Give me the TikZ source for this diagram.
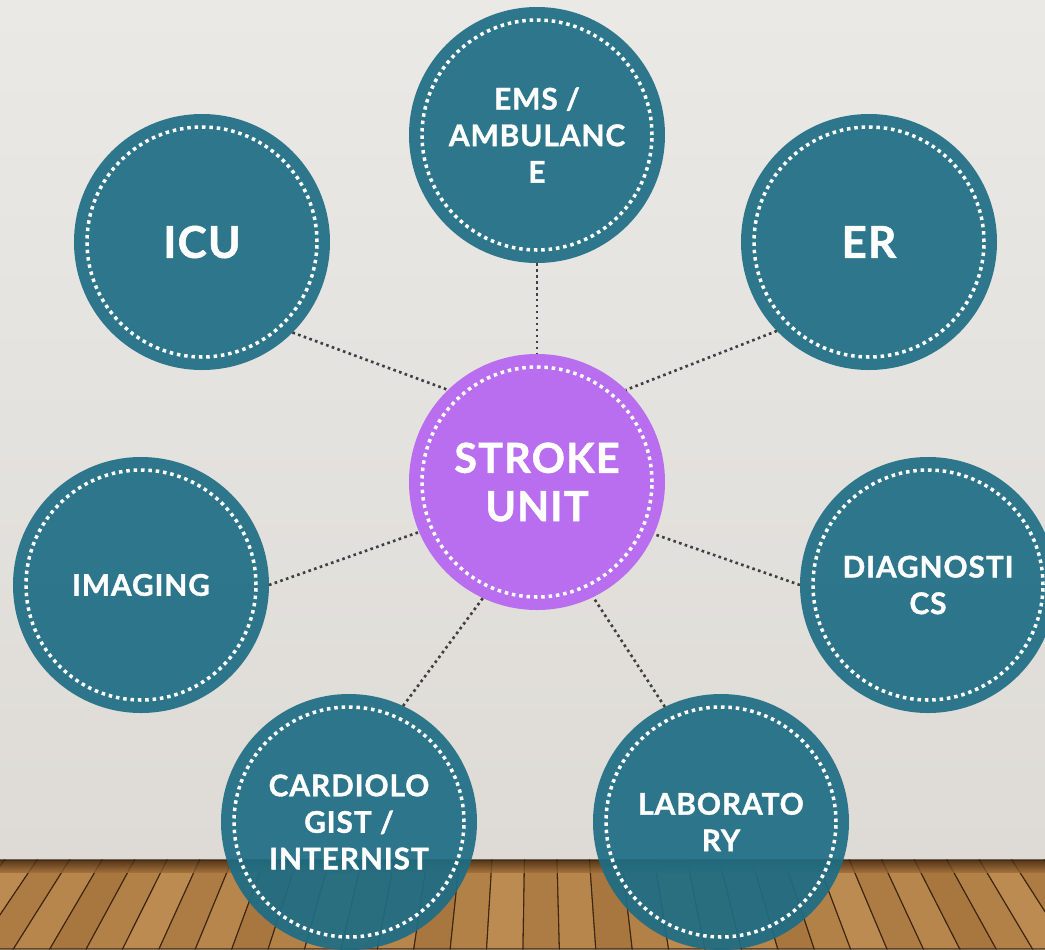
\documentclass[tikz,border=0pt]{standalone}
\usepackage{fontspec}
\setmainfont{Lato}[LetterSpace=3, BoldFeatures={FakeBold=1.2}]
\usetikzlibrary{positioning}
\definecolor{unitTeal}  {HTML}{1E6D85}
\definecolor{unitPurple}{HTML}{B86EEE}
\definecolor{wallTop}   {HTML}{EAE9E6}
\definecolor{wallLow}   {HTML}{DEDBD6}
\definecolor{floorWood} {HTML}{9C6A36}
\definecolor{floorLight}{HTML}{C49458}
\definecolor{plankDark} {HTML}{3E2510}
\definecolor{linkGray}  {HTML}{404040}
\tikzset{
  ring/.style  = {draw=white, line width=2pt, dash pattern=on 2pt off 2.2pt},
  unit/.style  = {circle, fill=unitTeal, fill opacity=0.92, text opacity=1,
                  minimum size=5.12cm, inner sep=0pt, outer sep=0pt,
                  text=white, align=center,
                  font=\bfseries\fontsize{17}{20.8}\selectfont,
                  path picture={\draw[ring] (path picture bounding box.center) circle (2.3cm);}},
  bigunit/.style = {unit, font=\bfseries\fontsize{25}{29}\selectfont},
  hubunit/.style = {unit, fill=unitPurple, fill opacity=1,
                    font=\bfseries\fontsize{23.5}{27.5}\selectfont},
  link/.style  = {draw=linkGray, line width=1.5pt, dash pattern=on 1.5pt off 1.9pt},
  plank/.style = {draw=plankDark, line width=0.6pt},
}

\begin{document}
\begin{tikzpicture}
\useasboundingbox (-10.74,-9.34) rectangle (10.16,9.64);
\clip (-10.74,-9.34) rectangle (10.16,9.64);

% wall and floor
\shade[top color=wallTop, bottom color=wallLow] (-10.74,-7.56) rectangle (10.16,9.64);
\fill[floorWood] (-10.74,-9.34) rectangle (10.16,-7.56);
\foreach \x [count=\i] in {-11.3,-10.65,...,10.2}{
  \pgfmathsetmacro\s{30+mod(\i*7,5)*12}
  \fill[floorLight!\s!floorWood, plank]
    (\x,-7.56) -- (\x+0.65,-7.56) -- ({(\x+0.65)*1.12},-9.34) -- ({\x*1.12},-9.34) -- cycle;
}
\shade[top color=plankDark, bottom color=floorWood, fill opacity=0.8] (-10.74,-7.8) rectangle (10.16,-7.56);

% units
\node[hubunit]  (hub)    at (0,0)         {STROKE\\UNIT};
\node[unit]     (ems)    at (0,6.94)      {EMS /\\AMBULANC\\E};
\node[bigunit]  (icu)    at (-6.70,4.80)  {ICU};
\node[bigunit]  (er)     at (6.64,4.80)   {ER};
\node[unit]     (img)    at (-7.92,-2.06) {IMAGING};
\node[unit]     (diag)   at (7.82,-2.06)  {DIAGNOSTI\\CS};
\node[unit]     (cardio) at (-3.76,-6.80) {CARDIOLO\\GIST /\\INTERNIST};
\node[unit]     (lab)    at (3.68,-6.80)  {LABORATO\\RY};

% links
\draw[link] (ems.south)  -- (hub.north);
\draw[link] (icu.-45)    -- (hub.134);
\draw[link] (er.224)     -- (hub.46);
\draw[link] (img.0)      -- (hub.203);
\draw[link] (diag.180)   -- (hub.-24);
\draw[link] (cardio.65)  -- (hub.245);
\draw[link] (lab.116)    -- (hub.-64);

\end{tikzpicture}
\end{document}
